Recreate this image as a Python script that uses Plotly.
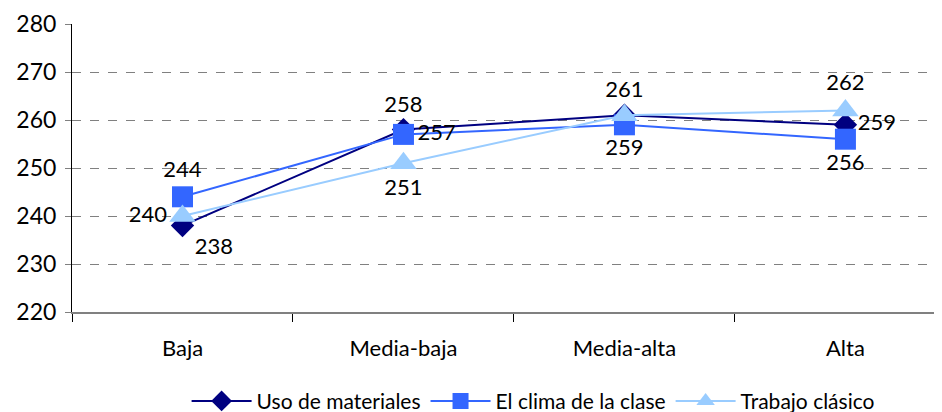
import plotly.graph_objects as go

categories = ["Baja", "Media-baja", "Media-alta", "Alta"]
uso_materiales = [238, 258, 261, 259]
clima_clase = [244, 257, 259, 256]
trabajo_clasico = [240, 251, 261, 262]
y_ticks = [220, 230, 240, 250, 260, 270, 280]

# per-point label placement; the shared 261 at Media-alta is shown only once
series = [
    ("Uso de materiales", uso_materiales, "#000080", "diamond", 18,
     ["bottom right", "top center", "top center", "middle right"], [True] * 4),
    ("El clima de la clase", clima_clase, "#3366FF", "square", 21,
     ["top center", "middle right", "bottom center", "bottom center"], [True] * 4),
    ("Trabajo clásico", trabajo_clasico, "#99CCFF", "triangle-up", 23,
     ["middle left", "bottom center", "top center", "top center"], [True, True, False, True]),
]

fig = go.Figure()
for name, vals, color, symbol, size, tpos, show in series:
    fig.add_trace(go.Scatter(
        x=categories, y=vals, name=name,
        mode="lines+markers+text",
        line=dict(color=color, width=2),
        marker=dict(symbol=symbol, size=size, color=color),
        text=[str(v) if s else "" for v, s in zip(vals, show)],
        textposition=tpos,
        textfont=dict(size=22, color="black"),
        cliponaxis=False,
    ))

# page body adds an 8px margin, so the figure is sized to fit the window
fig.update_layout(
    width=934, height=404,
    margin=dict(l=64, r=0, t=16, b=100, autoexpand=False),
    plot_bgcolor="white", paper_bgcolor="white",
    font=dict(family="Lato", size=22, color="black"),
    showlegend=True,
    legend=dict(orientation="h", x=0.53, xanchor="center", y=-0.31, yanchor="middle",
                font=dict(size=21), itemwidth=60, tracegroupgap=0),
)
fig.update_xaxes(
    type="category", range=[-0.5, 3.437], automargin=False,
    tickson="boundaries", ticks="outside", ticklen=8, tickcolor="black",
    ticklabelstandoff=16,
    showline=True, linecolor="#808080", linewidth=2,
    showgrid=False, tickfont=dict(size=22),
)
fig.update_yaxes(
    range=[220, 280], tickvals=y_ticks, automargin=False,
    ticks="outside", ticklen=6, tickcolor="#808080", ticklabelstandoff=4,
    showline=True, linecolor="black", linewidth=1,
    showgrid=True, gridcolor="#808080", griddash="dash", gridwidth=1,
    zeroline=False, tickfont=dict(size=23),
)

fig.write_html("out.html")
